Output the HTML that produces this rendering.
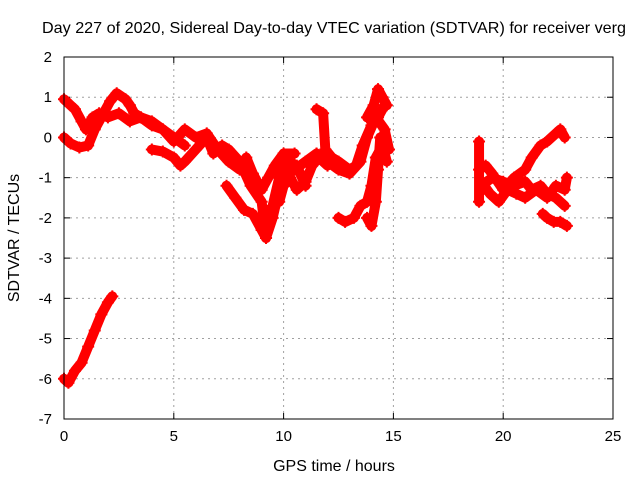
<!DOCTYPE html>
<html><head><meta charset="utf-8"><style>
body{margin:0;background:#fff}
svg text{font-family:"Liberation Sans",sans-serif;font-size:15px;fill:#000}
svg text.big{font-size:16px}
</style></head><body>
<svg id="c" width="640" height="480" xmlns="http://www.w3.org/2000/svg">
<rect width="640" height="480" fill="#fff"/>
<text class="big" x="42" y="33" textLength="584" lengthAdjust="spacingAndGlyphs">Day 227 of 2020, Sidereal Day-to-day VTEC variation (SDTVAR) for receiver verg</text>
<text class="big" x="334" y="471" text-anchor="middle">GPS time / hours</text>
<text class="big" transform="translate(19,238) rotate(-90)" text-anchor="middle">SDTVAR / TECUs</text>
<g id="grid"></g><g id="ticks"></g><g id="data"></g>
<rect x="64" y="57" width="549" height="362" fill="none" stroke="#000" stroke-width="1"/>
</svg>
<script>
const xTicks=[0,5,10,15,20,25];
const yTicks=[2,1,0,-1,-2,-3,-4,-5,-6,-7];
const sA=[[0,0.95],[0.3,0.8],[0.5,0.7],[0.8,0.4],[1,0.2],[1.3,0.5],[1.6,0.6],[2,0.5],[2.5,0.6],[3,0.4],[3.5,0.5],[4,0.3],[4.5,0.2],[5,-0.1],[5.5,0.2],[6,0.0],[6.5,0.1],[7,-0.3],[7.5,-0.6],[8,-0.8],[8.3,-0.5],[8.6,-0.9],[9,-1.3],[9.3,-1.0],[9.6,-0.7],[10,-0.4],[10.5,-0.4]];
const sB=[[0,0],[0.3,-0.15],[0.7,-0.25],[1.1,-0.2],[1.4,0.2],[1.8,0.6],[2.1,0.9],[2.4,1.1],[2.8,0.95],[3,0.8],[3.2,0.6],[3.5,0.5],[4,0.4],[4.5,0.2],[5,0.0],[5.5,-0.2]];
const sC=[[4,-0.3],[4.5,-0.35],[5,-0.5],[5.3,-0.7],[5.5,-0.6],[6,-0.3],[6.5,0.0],[6.8,-0.4],[7.2,-0.2],[7.5,-0.3],[8,-0.6],[8.5,-1.2],[9,-1.6],[9.2,-2.5],[9.5,-1.7],[9.8,-1.0],[10.2,-0.6],[10.6,-0.7],[11,-1.2]];
const sD=[[7.4,-1.2],[7.8,-1.5],[8.2,-1.8],[8.6,-1.9],[9.0,-2.3],[9.2,-2.5],[9.5,-2.0],[9.8,-1.3],[10.1,-0.9],[10.5,-0.8],[11,-0.6],[11.5,-0.4],[12,-0.6],[12.5,-0.8],[13,-0.9],[13.5,-0.6],[13.8,0.0],[14.2,0.5],[14.6,0.2],[14.8,-0.3]];
const sE=[[11.5,0.7],[11.8,0.6],[11.9,-0.3],[12.2,-0.5],[12.5,-0.6],[13,-0.8],[13.3,-0.7],[13.6,-0.2],[14,0.3],[14.3,0.5],[14.6,0.8]];
const sF=[[13.8,0.5],[14.1,0.8],[14.3,1.2],[14.5,1.0],[14.7,0.8]];
const sG=[[12.5,-2.0],[12.8,-2.1],[13.2,-2.0],[13.5,-1.7],[13.8,-1.6],[14.0,-1.2],[14.2,-0.5],[14.5,-0.2],[14.7,-0.6]];
const sH=[[13.8,-2.0],[14.0,-2.2],[14.2,-1.6],[14.3,-0.8],[14.4,0.0]];
const sI=[[9.8,-1.6],[10,-1.2],[10.3,-1.0],[10.6,-1.3],[11,-1.1],[11.3,-0.7],[11.6,-0.5],[12,-0.7]];
const sJ=[[18.9,-0.8],[19.2,-0.7],[19.5,-0.9],[20,-1.3],[20.5,-1.0],[21,-0.8],[21.3,-0.5],[21.7,-0.2],[22,-0.1],[22.4,0.1],[22.6,0.2],[22.8,0.0]];
const sK=[[19,-1.1],[19.4,-1.4],[19.8,-1.6],[20.2,-1.3],[20.6,-1.4],[21,-1.5],[21.5,-1.3],[22,-1.5],[22.4,-1.2],[22.8,-1.3],[22.9,-1.0]];
const sL=[[19,-1.2],[19.5,-1.0],[20,-1.1],[20.5,-1.2],[21,-1.1],[21.3,-1.3],[21.7,-1.2],[22,-1.4],[22.4,-1.5],[22.8,-1.7]];
const sM=[[21.8,-1.9],[22,-2.0],[22.3,-2.1],[22.6,-2.1],[22.9,-2.2]];
const sN=[[0,-6.0],[0.2,-6.1],[0.5,-5.8],[0.8,-5.6],[1.1,-5.2],[1.4,-4.8],[1.7,-4.4],[2,-4.1],[2.2,-3.95]];
const sO=[[18.9,-0.1],[18.9,-1.6]];
const series=[sA,sB,sC,sD,sE,sF,sG,sH,sI,sJ,sK,sL,sM,sN,sO];
const X=h=>64+h*549/25, Y=v=>57+(2-v)*362/9;
const NS='http://www.w3.org/2000/svg';
function mk(t,a,p){const e=document.createElementNS(NS,t);for(const k in a)e.setAttribute(k,a[k]);p.appendChild(e);return e;}
const g=document.getElementById('grid'),tk=document.getElementById('ticks'),d=document.getElementById('data');
xTicks.forEach(t=>{
 if(t>0&&t<25){const l=mk('line',{x1:X(t),x2:X(t),y1:57,y2:419,stroke:'#a0a0a0','stroke-dasharray':'2,4'},g);
 
 }
 mk('line',{x1:X(t),x2:X(t),y1:419,y2:413,stroke:'#000'},tk);mk('line',{x1:X(t),x2:X(t),y1:57,y2:63,stroke:'#000'},tk);
 const tx=mk('text',{x:X(t),y:441,'text-anchor':'middle'},tk);tx.textContent=t;
 
 
});
yTicks.forEach(t=>{
 if(t<2&&t>-7){const l=mk('line',{x1:64,x2:613,y1:Y(t),y2:Y(t),stroke:'#a0a0a0','stroke-dasharray':'2,4'},g);
 
 }
 mk('line',{x1:64,x2:70,y1:Y(t),y2:Y(t),stroke:'#000'},tk);mk('line',{x1:607,x2:613,y1:Y(t),y2:Y(t),stroke:'#000'},tk);
 const tx=mk('text',{x:52,y:Y(t)+5,'text-anchor':'end'},tk);tx.textContent=t;
 
 
});
series.forEach((s,i)=>{
 const pl=mk('polyline',{points:s.map(p=>X(p[0])+','+Y(p[1])).join(' '),fill:'none',stroke:'#f00','stroke-width':10,'stroke-linejoin':'round','stroke-linecap':'round'},d);
 
 
 s.forEach(p=>{
  const m=mk('path',{d:`M${X(p[0])-6},${Y(p[1])}h12M${X(p[0])},${Y(p[1])-6}v12`,stroke:'#f00','stroke-width':2},d);
  
  
 });
});
</script>
</body></html>
